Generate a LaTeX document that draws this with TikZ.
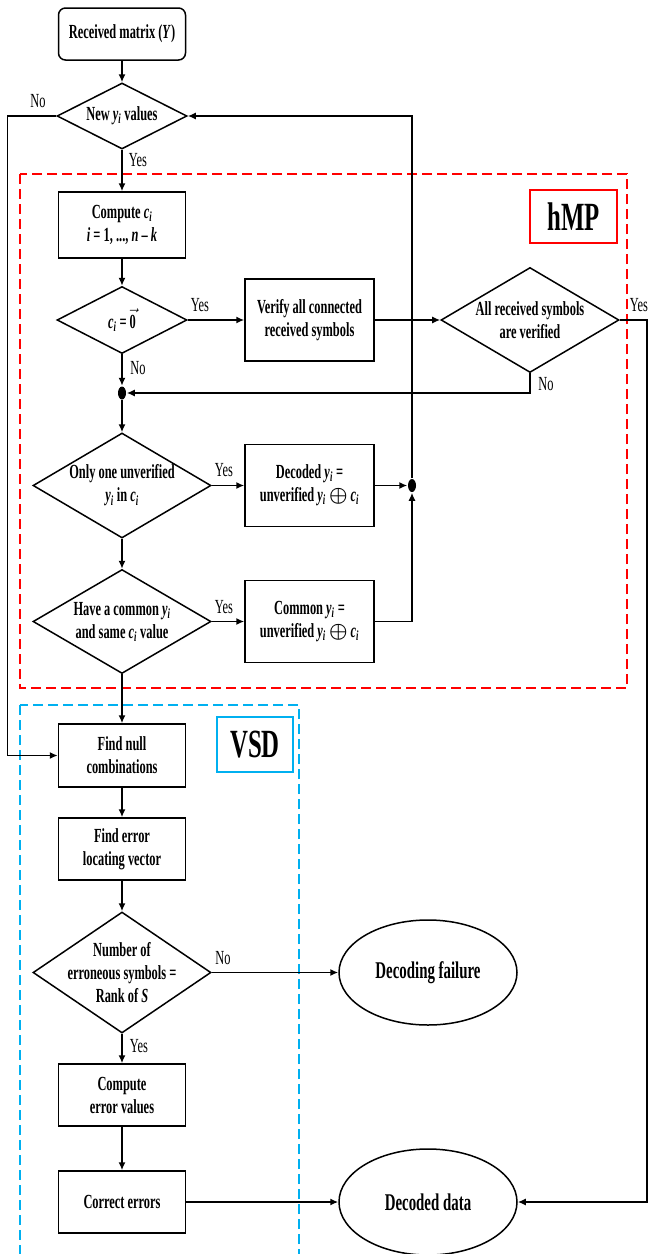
\documentclass[tikz,border=0pt]{standalone}
\usepackage{amsmath}
\usepackage{fontspec}
\setmainfont{Liberation Serif}[FakeStretch=0.62]
\usepackage{tikz}
\usetikzlibrary{arrows.meta,shapes.geometric}

\definecolor{vsdblue}{RGB}{0,176,240}
\newcommand{\yi}{\textit{y}\textsubscript{\textit{i}}}
\newcommand{\ci}{\textit{c}\textsubscript{\textit{i}}}
\newcommand{\xor}{$\boldsymbol{\oplus}$}

\begin{document}
\begin{tikzpicture}[x=1pt, y=-1pt, line width=1.5pt,
  every node/.style={font=\fontsize{20}{23}\selectfont},
  proc/.style={draw, rectangle, align=center, inner sep=1pt, font=\fontsize{20}{23}\selectfont\bfseries},
  dec/.style={draw, diamond, align=center, inner sep=0pt, shape aspect=1.7, font=\fontsize{20}{23}\selectfont\bfseries},
  term/.style={draw, ellipse, minimum width=178pt, minimum height=105pt, font=\fontsize{24}{27}\selectfont\bfseries},
  yn/.style={inner sep=0pt},
  junc/.style={ellipse, fill, inner sep=0pt, minimum width=8pt, minimum height=13pt},
  arr/.style={-{Latex[length=8pt,width=7pt]}},
  tag/.style={draw, line width=2pt, inner sep=0pt, font=\fontsize{40}{42}\selectfont\bfseries},
  zone/.style={line width=2.2pt, dash pattern=on 10pt off 5pt}]
  \useasboundingbox (0,0) rectangle (648,1254);

  \draw[zone, red] (20,174) rectangle (627,688);
  \draw[zone, vsdblue] (20,705) rectangle (299,1270);
  \node[tag, draw=red, minimum width=87pt, minimum height=53pt] (hmp) at (573.5,216.5) {hMP};
  \node[tag, draw=vsdblue, minimum width=76pt, minimum height=55pt] (vsd) at (255,744.5) {VSD};

  \node[proc, rounded corners=7pt, minimum width=127pt, minimum height=52pt] (rec) at (122,34) {Received matrix (\textit{Y})};
  \node[dec, minimum width=130pt, minimum height=66pt] (new) at (122,116) {New \yi{} values};
  \node[proc, minimum width=127pt, minimum height=66pt] (comp) at (122,225) {Compute \ci\\\textit{i} = 1, ..., \textit{n} -- \textit{k}};
  \node[dec, minimum width=130pt, minimum height=67pt] (zero) at (122,320) {\ci{} = $\vec{\mbox{0}}$};
  \node[proc, minimum width=129pt, minimum height=82pt] (ver) at (309.5,320) {Verify all connected\\received symbols};
  \node[dec, minimum width=178pt, minimum height=105pt] (all) at (530,320) {All received symbols\\are verified};
  \node[junc] (j1) at (122,393) {};
  \node[dec, minimum width=178pt, minimum height=105pt] (one) at (122,485.5) {Only one unverified\\\yi{} in \ci};
  \node[proc, minimum width=129pt, minimum height=82pt] (dcd) at (309.5,485.5) {Decoded \yi{} =\\unverified \yi{} \xor{} \ci};
  \node[junc] (j2) at (412,485.5) {};
  \node[dec, minimum width=178pt, minimum height=104pt] (com) at (122,621.5) {Have a common \yi\\and same \ci{} value};
  \node[proc, minimum width=129pt, minimum height=82pt] (cmn) at (309.5,621.5) {Common \yi{} =\\unverified \yi{} \xor{} \ci};
  \node[proc, minimum width=127pt, minimum height=63pt] (fnull) at (122,755.5) {Find null\\combinations};
  \node[proc, minimum width=127pt, minimum height=62pt] (ferr) at (122,849) {Find error\\locating vector};
  \node[dec, minimum width=178pt, minimum height=121pt, inner ysep=-12pt, shape aspect=1.47] (num) at (122,972.5) {Number of\\erroneous symbols =\\Rank of \textit{S}};
  \node[term] (fail) at (428,972.5) {Decoding failure};
  \node[proc, minimum width=127pt, minimum height=62pt] (cerr) at (122,1095) {Compute\\error values};
  \node[proc, minimum width=127pt, minimum height=62pt] (corr) at (122,1202) {Correct errors};
  \node[term, minimum height=106pt] (data) at (428,1202) {Decoded data};

  \draw[arr] (rec) -- (new);
  \draw[arr] (new) -- (comp);
  \draw[arr] (comp) -- (zero);
  \draw[arr] (zero) -- (ver);
  \draw[arr] (ver) -- (all);
  \draw[arr] (all.east) -- ++(27,0) |- (data.east);
  \draw[arr] (all.south) |- (j1);
  \draw[arr] (zero) -- (j1);
  \draw[arr] (j1) -- (one);
  \draw[arr] (one) -- (dcd);
  \draw[arr] (dcd) -- (j2);
  \draw[arr] (cmn.east) -| (j2);
  \draw[arr] (j2) |- (new.east);
  \draw[arr] (one) -- (com);
  \draw[arr] (com) -- (cmn);
  \draw[arr] (com) -- (fnull);
  \draw[arr] (new.west) -- ++(-49,0) |- (fnull.west);
  \draw[arr] (fnull) -- (ferr);
  \draw[arr] (ferr) -- (num);
  \draw[arr] (num) -- (fail);
  \draw[arr] (num) -- (cerr);
  \draw[arr] (cerr) -- (corr);
  \draw[arr] (corr) -- (data);

  \node[yn] (no1) at (38,101) {No};
  \node[yn] (yes1) at (138,160) {Yes};
  \node[yn] (yes2) at (200,305) {Yes};
  \node[yn] (no2) at (138,368) {No};
  \node[yn] (yes3) at (639,305) {Yes};
  \node[yn] (no3) at (546,384) {No};
  \node[yn] (yes4) at (224,470) {Yes};
  \node[yn] (yes5) at (224,607) {Yes};
  \node[yn] (no4) at (223,958) {No};
  \node[yn] (yes6) at (139,1046) {Yes};
\end{tikzpicture}
\end{document}
